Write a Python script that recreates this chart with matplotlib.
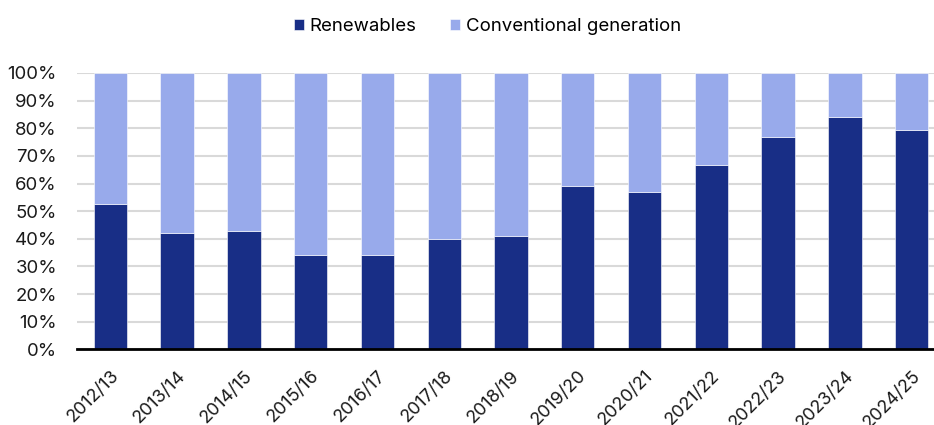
import matplotlib.pyplot as plt
import numpy as np

plt.rcParams['font.family'] = ['Inter', 'DejaVu Sans']

years = ['2012/13', '2013/14', '2014/15', '2015/16', '2016/17', '2017/18', '2018/19',
         '2019/20', '2020/21', '2021/22', '2022/23', '2023/24', '2024/25']
renewables = [52.6, 42.1, 42.9, 34.1, 34.1, 39.8, 41.1, 59.2, 56.8, 66.6, 76.8, 84.1, 79.5]
conventional = [100 - r for r in renewables]

dark = '#182e86'
light = '#98aaeb'
fs = 13.4

fig = plt.figure(figsize=(9.34, 4.25), dpi=100)
ax = fig.add_axes([77 / 934, 75.7 / 425, 868 / 934, 276.3 / 425])

x = np.arange(len(years))
ax.bar(x, renewables, width=0.5, color=dark, edgecolor='white', linewidth=0.4,
       label='Renewables', zorder=3)
ax.bar(x, conventional, width=0.5, bottom=renewables, color=light, edgecolor='white',
       linewidth=0.4, label='Conventional generation', zorder=3)

ax.set_xlim(-0.5, len(years) - 0.5)
ax.set_ylim(0, 100)
ax.set_yticks(np.arange(0, 101, 10))
ax.set_yticklabels([f'{v}%' for v in range(0, 101, 10)], fontsize=fs, color='#1a1a1a')
ax.set_xticks(x)
ax.set_xticklabels(years, rotation=45, ha='right', va='top', rotation_mode='anchor',
                   fontsize=13, color='#1a1a1a')
ax.tick_params(axis='both', length=0)
ax.tick_params(axis='y', pad=14.4)
ax.tick_params(axis='x', pad=13)

ax.grid(axis='y', color='#d9d9d9', linewidth=1.5, zorder=0)
for side in ['top', 'right', 'left']:
    ax.spines[side].set_visible(False)
ax.spines['bottom'].set_color('black')
ax.spines['bottom'].set_linewidth(2)
ax.spines['bottom'].set_zorder(4)

fig.legend(loc='center', bbox_to_anchor=(487.5 / 934, 1 - 26.5 / 425), ncol=2, frameon=False,
           fontsize=fs, handlelength=0.55, handleheight=0.55, handletextpad=0.3,
           columnspacing=1.8, borderaxespad=0)

fig.savefig('out.png', dpi=100)
